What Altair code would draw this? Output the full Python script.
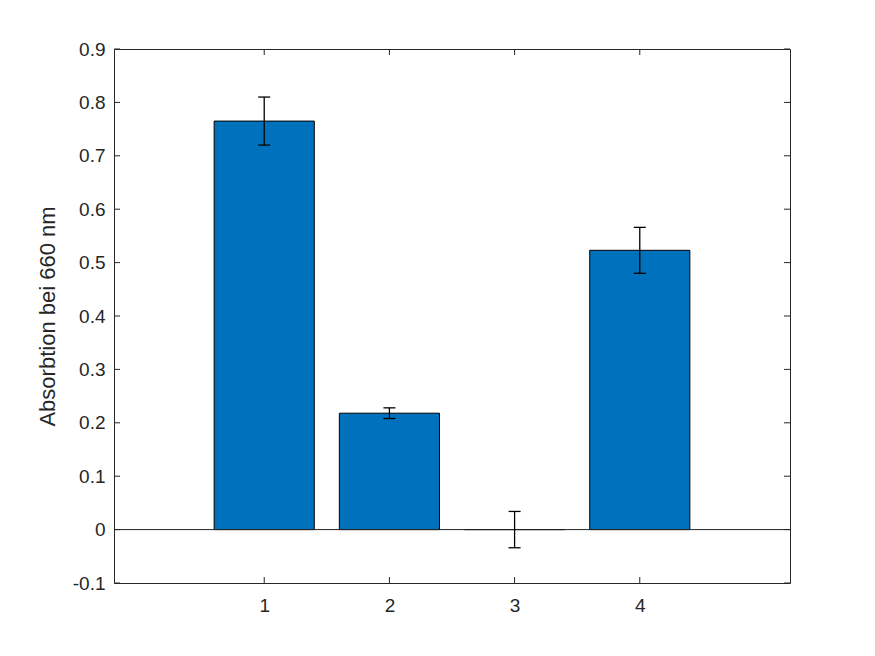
import altair as alt
import pandas as pd

# data
groups = [1, 2, 3, 4]
values = [0.765, 0.218, 0.0, 0.523]
errors = [0.045, 0.010, 0.034, 0.043]
y_ticks = [-0.1, 0.0, 0.1, 0.2, 0.3, 0.4, 0.5, 0.6, 0.7, 0.8, 0.9]
x_ticks = [1, 2, 3, 4]
y_title = "Absorbtion bei 660 nm"

XMIN, XMAX = -0.2, 5.2
YMIN, YMAX = -0.1, 0.9
BAR_W = 0.8
AX = "#262626"
FONT = "Liberation Sans"

df = pd.DataFrame({
    "g": groups,
    "v": values,
    "e": errors,
})
df["x0"] = df["g"] - BAR_W / 2
df["x1"] = df["g"] + BAR_W / 2
df["lo"] = df["v"] - df["e"]
df["hi"] = df["v"] + df["e"]

xs = alt.Scale(domain=[XMIN, XMAX], nice=False, zero=False)
ys = alt.Scale(domain=[YMIN, YMAX], nice=False, zero=False)

base = alt.Chart(df)

ylab = "datum.value < 0 ? '-' + format(-datum.value, '~g') : format(datum.value, '~g')"

bars = base.mark_bar(color="#0072BD", stroke="black", strokeWidth=1).encode(
    x=alt.X("x0:Q", scale=xs,
            axis=alt.Axis(values=x_ticks, format="d", title=None, labelPadding=13)),
    x2="x1:Q",
    y=alt.Y("v:Q", scale=ys,
            axis=alt.Axis(values=y_ticks, title=y_title, labelPadding=9,
                          labelExpr=ylab,
                          titleX=-67, titleY=267,
                          titleAlign="center", titleBaseline="middle", titleAngle=-90)),
    y2=alt.Y2(datum=0),
)

baseline = alt.Chart(pd.DataFrame({"z": [0]})).mark_rule(color=AX, strokeWidth=1).encode(
    y=alt.Y("z:Q", scale=ys),
)

err = base.mark_rule(color="black", strokeWidth=1.3).encode(
    x=alt.X("g:Q", scale=xs), y=alt.Y("lo:Q", scale=ys), y2="hi:Q"
)
cap_hi = base.mark_rule(color="black", strokeWidth=1.3, xOffset=-6, x2Offset=6).encode(
    x=alt.X("g:Q", scale=xs), x2="g:Q", y=alt.Y("hi:Q", scale=ys)
)
cap_lo = base.mark_rule(color="black", strokeWidth=1.3, xOffset=-6, x2Offset=6).encode(
    x=alt.X("g:Q", scale=xs), x2="g:Q", y=alt.Y("lo:Q", scale=ys)
)

yt = pd.DataFrame({"t": y_ticks, "xl": XMIN, "xr": XMAX})
xt = pd.DataFrame({"t": x_ticks, "yb": YMIN, "yt": YMAX})

ytick_l = alt.Chart(yt).mark_rule(color=AX, strokeWidth=1, x2Offset=6).encode(
    x=alt.X("xl:Q", scale=xs), x2="xl:Q", y=alt.Y("t:Q", scale=ys))
ytick_r = alt.Chart(yt).mark_rule(color=AX, strokeWidth=1, x2Offset=-6).encode(
    x=alt.X("xr:Q", scale=xs), x2="xr:Q", y=alt.Y("t:Q", scale=ys))
xtick_b = alt.Chart(xt).mark_rule(color=AX, strokeWidth=1, y2Offset=-6).encode(
    x=alt.X("t:Q", scale=xs), y=alt.Y("yb:Q", scale=ys), y2="yb:Q")
xtick_t = alt.Chart(xt).mark_rule(color=AX, strokeWidth=1, y2Offset=6).encode(
    x=alt.X("t:Q", scale=xs), y=alt.Y("yt:Q", scale=ys), y2="yt:Q")

chart = alt.layer(
    bars, baseline, err, cap_hi, cap_lo, ytick_l, ytick_r, xtick_b, xtick_t
).properties(
    width=676, height=534,
    autosize=alt.AutoSizeParams(type="none"),
    padding={"left": 106, "top": 41, "right": 60, "bottom": 50},
    background="white",
).configure_view(
    stroke=AX, strokeWidth=1
).configure_axis(
    grid=False, ticks=False, domain=False,
    labelFontSize=19, labelFont=FONT, labelColor=AX, labelFlush=False,
    titleFont=FONT, titleFontSize=22, titleFontWeight="normal", titleColor=AX,
)

chart.save("out.html", embed_options={"renderer": "svg", "actions": False})
